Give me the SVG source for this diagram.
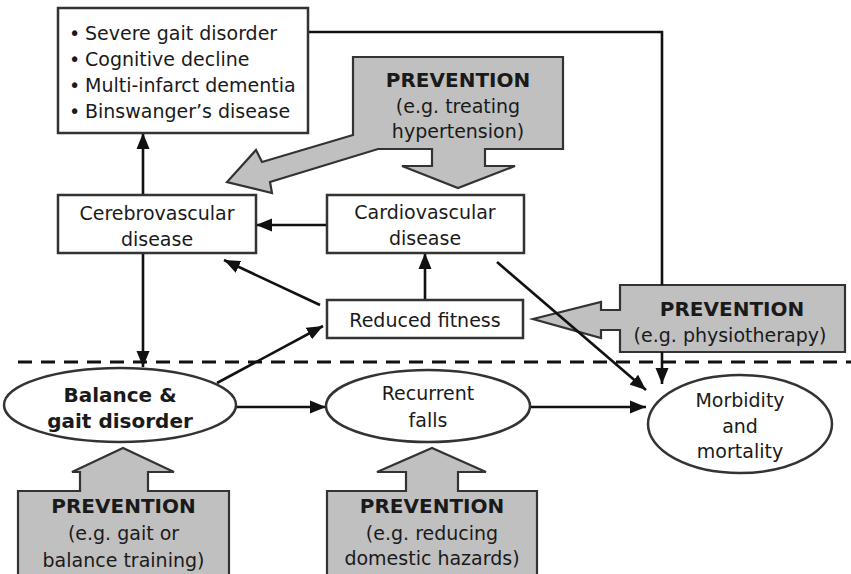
<svg xmlns="http://www.w3.org/2000/svg" width="851" height="574" viewBox="0 0 851 574">
  <style>
    .box { fill: #ffffff; stroke: #333333; stroke-width: 2.5; }
    .prev { fill: #c0c0c0; stroke: #333333; stroke-width: 2.2; stroke-linejoin: miter; }
    .lbl { font-family: "DejaVu Sans", Verdana, sans-serif; font-size: 19px; fill: #1a1a1a; text-anchor: middle; }
    .lbl-b { font-family: "DejaVu Sans", Verdana, sans-serif; font-size: 20px; font-weight: bold; fill: #1a1a1a; text-anchor: middle; }
    .list { font-family: "DejaVu Sans", Verdana, sans-serif; font-size: 19px; fill: #1a1a1a; }
    .conn { fill: none; stroke: #111111; stroke-width: 2.6; }
    .dash { fill: none; stroke: #111111; stroke-width: 3; stroke-dasharray: 14 9; }
  </style>
  <defs>
    <marker id="arrow" markerUnits="userSpaceOnUse" markerWidth="16" markerHeight="14" refX="16" refY="7" orient="auto">
      <path d="M0,0.5 L16,7 L0,13.5 z" fill="#111111"/>
    </marker>
  </defs>

  <rect width="851" height="574" fill="#ffffff"/>

  <!-- separator between vascular causes and fall consequences -->
  <line class="dash" x1="18" y1="362" x2="851" y2="362"/>

  <!-- prevention callouts -->
  <g id="prevention-hypertension">
    <path class="prev" d="M353,57 L563,57 L563,149 L485,149 L485,166 L515,166 L458,188 L402,166 L432,166 L432,149 L378,149 L270,182 L272,193 L227,182 L256,150 L262,162 L353,135 Z"/>
    <text class="lbl-b" x="458" y="87">PREVENTION</text>
    <text class="lbl" x="458" y="113">(e.g. treating</text>
    <text class="lbl" x="458" y="138">hypertension)</text>
  </g>

  <g id="prevention-physiotherapy">
    <path class="prev" d="M620,285 L845,285 L845,352 L620,352 L620,330 L601,330 L601,338 L533,319 L601,302 L601,310 L620,310 Z"/>
    <text class="lbl-b" x="732" y="316">PREVENTION</text>
    <text class="lbl" x="730" y="342">(e.g. physiotherapy)</text>
  </g>

  <g id="prevention-gait-training">
    <path class="prev" d="M18,491 L80,491 L80,472 L72,472 L123,448 L174,472 L148,472 L148,491 L229,491 L229,580 L18,580 Z"/>
    <text class="lbl-b" x="123.5" y="513">PREVENTION</text>
    <text class="lbl" x="123.5" y="540">(e.g. gait or</text>
    <text class="lbl" x="123.5" y="567">balance training)</text>
  </g>

  <g id="prevention-hazards">
    <path class="prev" d="M327,491 L406,491 L406,472 L377,472 L432,448 L486,472 L458,472 L458,491 L537,491 L537,580 L327,580 Z"/>
    <text class="lbl-b" x="432" y="513">PREVENTION</text>
    <text class="lbl" x="432" y="540">(e.g. reducing</text>
    <text class="lbl" x="432" y="565">domestic hazards)</text>
  </g>

  <!-- connectors -->
  <g id="connectors">
    <line class="conn" x1="143" y1="195" x2="143" y2="133" marker-end="url(#arrow)"/>
    <line class="conn" x1="143" y1="253" x2="143" y2="367" marker-end="url(#arrow)"/>
    <line class="conn" x1="327" y1="225" x2="256" y2="225" marker-end="url(#arrow)"/>
    <line class="conn" x1="425" y1="300" x2="425" y2="253" marker-end="url(#arrow)"/>
    <line class="conn" x1="320" y1="305" x2="224" y2="260" marker-end="url(#arrow)"/>
    <line class="conn" x1="217" y1="383" x2="323" y2="326" marker-end="url(#arrow)"/>
    <line class="conn" x1="235" y1="407" x2="326" y2="407" marker-end="url(#arrow)"/>
    <line class="conn" x1="530" y1="407" x2="646" y2="407" marker-end="url(#arrow)"/>
    <line class="conn" x1="497" y1="262" x2="646" y2="390" marker-end="url(#arrow)"/>
    <polyline class="conn" points="308,32 662,32 662,285"/>
    <line class="conn" x1="662" y1="352" x2="662" y2="384" marker-end="url(#arrow)"/>
  </g>

  <!-- nodes -->
  <g id="late-outcomes">
    <rect class="box" x="58" y="8" width="250" height="125"/>
    <text class="list" x="69" y="40">•</text>
    <text class="list" x="85" y="40">Severe gait disorder</text>
    <text class="list" x="69" y="66">•</text>
    <text class="list" x="85" y="66">Cognitive decline</text>
    <text class="list" x="69" y="92">•</text>
    <text class="list" x="85" y="92">Multi-infarct dementia</text>
    <text class="list" x="69" y="118">•</text>
    <text class="list" x="85" y="118">Binswanger’s disease</text>
  </g>

  <g id="cerebrovascular">
    <rect class="box" x="58" y="195" width="198" height="58"/>
    <text class="lbl" x="157" y="220">Cerebrovascular</text>
    <text class="lbl" x="157" y="246">disease</text>
  </g>

  <g id="cardiovascular">
    <rect class="box" x="327" y="195" width="197" height="58"/>
    <text class="lbl" x="425" y="219">Cardiovascular</text>
    <text class="lbl" x="425" y="245">disease</text>
  </g>

  <g id="reduced-fitness">
    <rect class="box" x="327" y="300" width="196" height="38"/>
    <text class="lbl" x="425" y="327">Reduced fitness</text>
  </g>

  <g id="balance-gait">
    <ellipse class="box" cx="120" cy="405" rx="116" ry="37"/>
    <text class="lbl-b" x="120" y="402">Balance &amp;</text>
    <text class="lbl-b" x="120" y="428">gait disorder</text>
  </g>

  <g id="recurrent-falls">
    <ellipse class="box" cx="428" cy="406" rx="102" ry="36"/>
    <text class="lbl" x="428" y="400">Recurrent</text>
    <text class="lbl" x="428" y="427">falls</text>
  </g>

  <g id="morbidity-mortality">
    <ellipse class="box" cx="740" cy="424" rx="92" ry="49"/>
    <text class="lbl" x="740" y="407">Morbidity</text>
    <text class="lbl" x="740" y="433">and</text>
    <text class="lbl" x="740" y="458">mortality</text>
  </g>
</svg>
